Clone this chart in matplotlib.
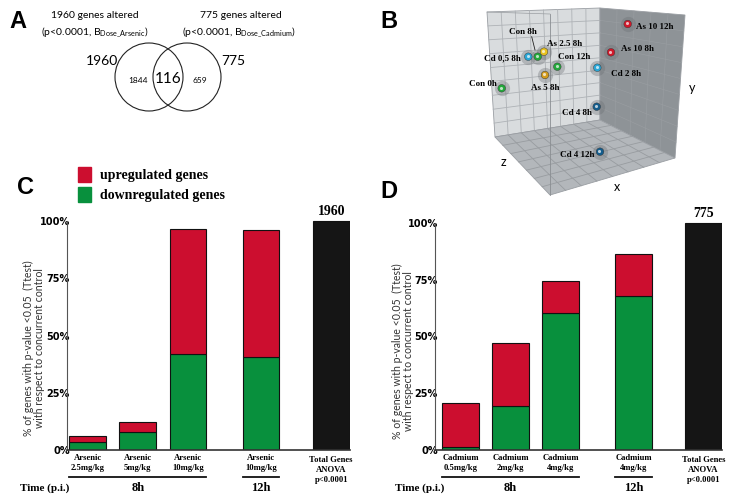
import numpy as np
import matplotlib
matplotlib.use("Agg")
import matplotlib.pyplot as plt
from matplotlib.patches import Circle, Polygon, Rectangle
from matplotlib.transforms import blended_transform_factory

W, H = 736, 503
RED = "#cc0e2f"
GREEN = "#08903d"
BLACK = "#151515"
SANS = ["Lato", "DejaVu Sans"]
SERIF = ["Liberation Serif", "DejaVu Serif"]
BOLDSANS = ["Liberation Sans", "DejaVu Sans"]

# ---- panel A data
as_total, cd_total = 1960, 775
as_only, shared, cd_only = 1844, 116, 659

# ---- panel B data (projected positions of the 3D plot)
pca_labels = ["Con 0h", "Con 8h", "Con 12h", "As 2.5 8h", "As 5 8h", "As 10 8h",
              "As 10 12h", "Cd 0,5 8h", "Cd 2 8h", "Cd 4 8h", "Cd 4 12h"]
pca_x = [501.7, 537.7, 557.3, 544.0, 545.0, 611.0, 627.7, 528.3, 597.3, 596.7, 600.0]
pca_y = [88.3, 56.7, 66.7, 51.7, 75.0, 52.3, 24.0, 56.7, 67.7, 106.7, 151.7]
pca_colors = ["#22a83a", "#22a83a", "#22a83a", "#e8c21e", "#d29a1c", "#d0182a",
              "#d0182a", "#2aa6d6", "#2aa6d6", "#135c8c", "#135c8c"]

# ---- panel C / D data (% of genes)
arsenic_names = ["Arsenic\n2.5mg/kg", "Arsenic\n5mg/kg", "Arsenic\n10mg/kg", "Arsenic\n10mg/kg"]
arsenic_down = [3.6, 8.0, 42.0, 40.7]
arsenic_up = [2.5, 4.1, 54.5, 55.3]
cadmium_names = ["Cadmium\n0.5mg/kg", "Cadmium\n2mg/kg", "Cadmium\n4mg/kg", "Cadmium\n4mg/kg"]
cadmium_down = [1.5, 19.4, 60.2, 67.8]
cadmium_up = [19.1, 27.9, 14.4, 18.4]
total_pct = 100
yticks = [0, 25, 50, 75, 100]
ytick_labels = ["0%", "25%", "50%", "75%", "100%"]

fig = plt.figure(figsize=(W / 100, H / 100), dpi=100)
over = fig.add_axes([0, 0, 1, 1])
over.set_xlim(0, W)
over.set_ylim(H, 0)
over.axis("off")

# panel letters
for letter, (lx, ly) in zip("ABCD", [(18, 21), (389, 21), (25, 188), (389, 191)]):
    over.text(lx, ly, letter, fontsize=17, fontweight="bold", family=BOLDSANS,
              ha="center", va="center")

# ---------------- A: venn
over.add_patch(Circle((149, 77), 34, fill=False, lw=0.8, ec="#222"))
over.add_patch(Circle((187, 77), 34, fill=False, lw=0.8, ec="#222"))
over.text(95, 15, f"{as_total} genes altered", family=SANS, fontsize=7.5, ha="center", va="center")
over.text(95, 32, r"(p<0.0001, B$_{\mathregular{Dose\_Arsenic}}$)", family=SANS, fontsize=7.5,
          ha="center", va="center")
over.text(241, 15, f"{cd_total} genes altered", family=SANS, fontsize=7.5, ha="center", va="center")
over.text(239, 32, r"(p<0.0001, B$_{\mathregular{Dose\_Cadmium}}$)", family=SANS, fontsize=7.5,
          ha="center", va="center")
over.text(118, 61, str(as_total), family=SANS, fontsize=10, ha="right", va="center")
over.text(221, 61, str(cd_total), family=SANS, fontsize=10, ha="left", va="center")
over.text(138, 80, str(as_only), family=SANS, fontsize=6, ha="center", va="center")
over.text(168, 79, str(shared), family=SANS, fontsize=11, ha="center", va="center")
over.text(200, 80, str(cd_only), family=SANS, fontsize=6, ha="center", va="center")


# ---------------- B: 3D box
def quad(corners, face, grid_col, nu, nv, lw=0.6):
    c = np.array(corners, dtype=float)
    over.add_patch(Polygon(c, closed=True, fc=face, ec="#9a9ea3", lw=0.6, zorder=1))
    for t in np.linspace(0, 1, nu + 1)[1:-1]:
        a = c[0] + t * (c[1] - c[0])
        b = c[3] + t * (c[2] - c[3])
        over.plot([a[0], b[0]], [a[1], b[1]], color=grid_col, lw=lw, zorder=1.5)
    for t in np.linspace(0, 1, nv + 1)[1:-1]:
        a = c[0] + t * (c[3] - c[0])
        b = c[1] + t * (c[2] - c[1])
        over.plot([a[0], b[0]], [a[1], b[1]], color=grid_col, lw=lw, zorder=1.5)


quad([(487, 12), (600, 8), (600, 120), (495, 137)], "#d9dcde", "#aeb2b6", 8, 9)
quad([(600, 8), (685, 15), (675, 158), (600, 120)], "#8e9397", "#9a9ea2", 5, 9, lw=0.4)
quad([(495, 137), (600, 120), (675, 158), (550, 195)], "#b3b7bb", "#989ca0", 8, 7)
over.plot([550, 550], [14, 195], color="#8a8e92", lw=0.6, zorder=1.6)
over.plot([487, 550], [12, 14], color="#9a9ea2", lw=0.5, zorder=1.6)

over.text(503, 162, "z", family=SANS, fontsize=9, ha="center", va="center")
over.text(617, 187, "x", family=SANS, fontsize=9, ha="center", va="center")
over.text(692, 88, "y", family=SANS, fontsize=9, ha="center", va="center")

over.scatter(pca_x, pca_y, s=120, color="#6a6e72", alpha=0.35, lw=0, zorder=2)
over.scatter(pca_x, pca_y, s=30, c=pca_colors, edgecolors="#333", linewidths=0.3, zorder=3)
over.scatter(np.array(pca_x) - 0.8, np.array(pca_y) - 0.8, s=5, color="white", alpha=0.7,
             lw=0, zorder=4)

label_off = {
    "Con 0h": (-5, -4, "right"), "Con 8h": (-15, -25, "center"), "Con 12h": (1, -10, "left"),
    "As 2.5 8h": (3, -8, "left"), "As 5 8h": (0, 13, "center"), "As 10 8h": (10, -3, "left"),
    "As 10 12h": (8, 3, "left"), "Cd 0,5 8h": (-7, 2, "right"), "Cd 2 8h": (14, 6, "left"),
    "Cd 4 8h": (-5, 6, "right"), "Cd 4 12h": (-6, 3, "right"),
}
for name, px, py in zip(pca_labels, pca_x, pca_y):
    dx, dy, ha = label_off[name]
    over.text(px + dx, py + dy, name, family=SERIF, fontweight="bold", fontsize=6.5,
              ha=ha, va="center", zorder=5)
over.plot([531.7, 535], [36.7, 50], color="#222", lw=0.6, zorder=5)

# ---------------- C / D bars
pos = np.array([0, 1, 2, 3.45, 4.85])
width = 0.73


def bar_panel(left_px, x0, unit, px_per_pct, down, up, names, total, tick_x, ylab_xy):
    xlim = (-(x0 - left_px) / unit, pos[-1] + width / 2)
    right_px = x0 + xlim[1] * unit
    top_px = 205
    ax = fig.add_axes([left_px / W, (H - 450) / H, (right_px - left_px) / W, (450 - top_px) / H])
    ax.set_facecolor("none")
    ax.set_xlim(*xlim)
    ax.set_ylim(0, (450 - top_px) / px_per_pct)
    ax.bar(pos[:4], down, width, color=GREEN, ec="#111", lw=0.8)
    ax.bar(pos[:4], up, width, bottom=down, color=RED, ec="#111", lw=0.8)
    ax.bar(pos[4], total_pct, width, color=BLACK, ec="#111", lw=0.8)
    for s in ["top", "right"]:
        ax.spines[s].set_visible(False)
    ax.spines["left"].set_bounds(0, 100)
    ax.spines["left"].set_color("#555")
    ax.spines["left"].set_linewidth(0.8)
    ax.spines["bottom"].set_color("#333")
    ax.spines["bottom"].set_linewidth(1.2)
    ax.set_xticks([])
    ax.set_yticks(yticks)
    ax.set_yticklabels(ytick_labels, family="DejaVu Sans", fontstretch="condensed",
                       fontweight="bold", fontsize=7.8)
    ax.tick_params(axis="y", length=0, pad=-2)
    ax.text(pos[4], 101.5, str(total), family=SERIF, fontweight="bold", fontsize=10,
            ha="center", va="bottom")

    tr = blended_transform_factory(ax.transData, over.transData)
    for p, n in zip(pos[:4], names):
        ax.text(p, 463, n, transform=tr, family=SERIF, fontweight="bold", fontsize=6.2,
                ha="center", va="center", linespacing=1.25, clip_on=False)
    ax.text(pos[4], 470, "Total Genes\nANOVA\np<0.0001", transform=tr, family=SERIF,
            fontweight="bold", fontsize=6.2, ha="center", va="center", linespacing=1.25,
            clip_on=False)
    ax.plot([pos[0] - width / 2, pos[2] + width / 2], [476.7, 476.7], transform=tr,
            color="#111", lw=1.3, clip_on=False)
    ax.plot([pos[3] - width / 2, pos[3] + width / 2], [476.7, 476.7], transform=tr,
            color="#111", lw=1.3, clip_on=False)
    ax.text(pos[1], 488, "8h", transform=tr, family=SERIF, fontweight="bold", fontsize=9,
            ha="center", va="center", clip_on=False)
    ax.text(pos[3], 488, "12h", transform=tr, family=SERIF, fontweight="bold", fontsize=9,
            ha="center", va="center", clip_on=False)
    over.text(tick_x, 488, "Time (p.i.)", family=SERIF, fontweight="bold", fontsize=8,
              ha="left", va="center")
    over.text(ylab_xy[0], ylab_xy[1],
              "% of genes with p-value <0.05  (Ttest)\nwith respect to concurrent control",
              family=SANS, fontsize=7.6, color="#333", rotation=90, ha="center", va="center",
              linespacing=1.05)
    return ax


ax_c = bar_panel(67, 87.5, 50.25, 2.29, arsenic_down, arsenic_up, arsenic_names,
                 as_total, 20, (34, 348))
ax_d = bar_panel(435, 460.4, 50.15, 2.27, cadmium_down, cadmium_up, cadmium_names,
                 cd_total, 395, (403, 351))

# legend of C
over.add_patch(Rectangle((78, 167), 13, 15, color=RED))
over.add_patch(Rectangle((78, 187), 13, 15, color=GREEN))
over.text(100, 175, "upregulated genes", family=SERIF, fontweight="bold", fontsize=10, va="center")
over.text(100, 195, "downregulated genes", family=SERIF, fontweight="bold", fontsize=10, va="center")

fig.savefig("out.png", dpi=100)
